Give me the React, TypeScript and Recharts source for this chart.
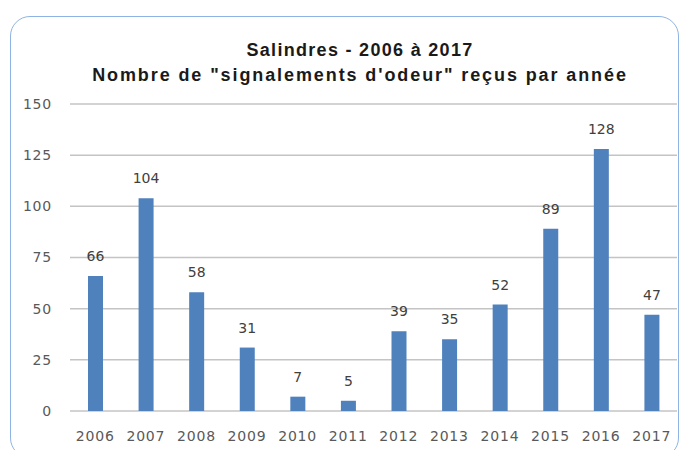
import { Bar, BarChart, CartesianGrid, LabelList, XAxis, YAxis } from 'recharts'

const years = ['2006', '2007', '2008', '2009', '2010', '2011', '2012', '2013', '2014', '2015', '2016', '2017']
const signalements = [66, 104, 58, 31, 7, 5, 39, 35, 52, 89, 128, 47]
const yTicks = [0, 25, 50, 75, 100, 125, 150]
const titleLines = ['Salindres - 2006 à 2017', 'Nombre de "signalements d\'odeur" reçus par année']

const data = years.map((year, i) => ({ year, value: signalements[i] }))

const tickStyle = { fontSize: 14, fill: '#595959', fontFamily: 'DejaVu Sans', letterSpacing: 0.8 }
const titleStyle = {
  position: 'absolute' as const,
  left: 0,
  width: 720,
  textAlign: 'center' as const,
  fontFamily: 'Liberation Sans',
  fontWeight: 'bold',
  fontSize: 18,
  lineHeight: '25px',
  color: '#1a1a1a',
  whiteSpace: 'nowrap' as const,
}

export default function App() {
  return (
    <div style={{ position: 'absolute', left: 0, top: 0, width: 680, height: 450, background: '#fff', overflow: 'hidden' }}>
      <div
        style={{
          position: 'absolute',
          left: 10,
          top: 16,
          width: 667,
          height: 440,
          border: '1.5px solid #8EB4E3',
          borderRadius: 20,
        }}
      />
      <div style={{ ...titleStyle, top: 38, letterSpacing: 1.3 }}>{titleLines[0]}</div>
      <div style={{ ...titleStyle, top: 63, letterSpacing: 1.9 }}>{titleLines[1]}</div>
      <div style={{ position: 'absolute', left: 0, top: 0 }}>
        <BarChart width={680} height={450} data={data} margin={{ top: 104, right: 3, bottom: 9, left: 0 }}>
          <CartesianGrid vertical={false} stroke="#C4C4C4" strokeWidth={1.5} />
          <XAxis
            dataKey="year"
            axisLine={false}
            tickLine={false}
            tick={tickStyle}
            tickMargin={14}
            height={30}
            interval={0}
          />
          <YAxis
            domain={[0, 150]}
            ticks={yTicks}
            axisLine={false}
            tickLine={false}
            tick={tickStyle}
            tickMargin={12}
            width={70}
          />
          <Bar dataKey="value" fill="#4F81BD" barSize={15} isAnimationActive={false}>
            <LabelList
              dataKey="value"
              position="top"
              offset={15}
              style={{ fontSize: 14, fill: '#404040', fontFamily: 'DejaVu Sans' }}
            />
          </Bar>
        </BarChart>
      </div>
    </div>
  )
}
